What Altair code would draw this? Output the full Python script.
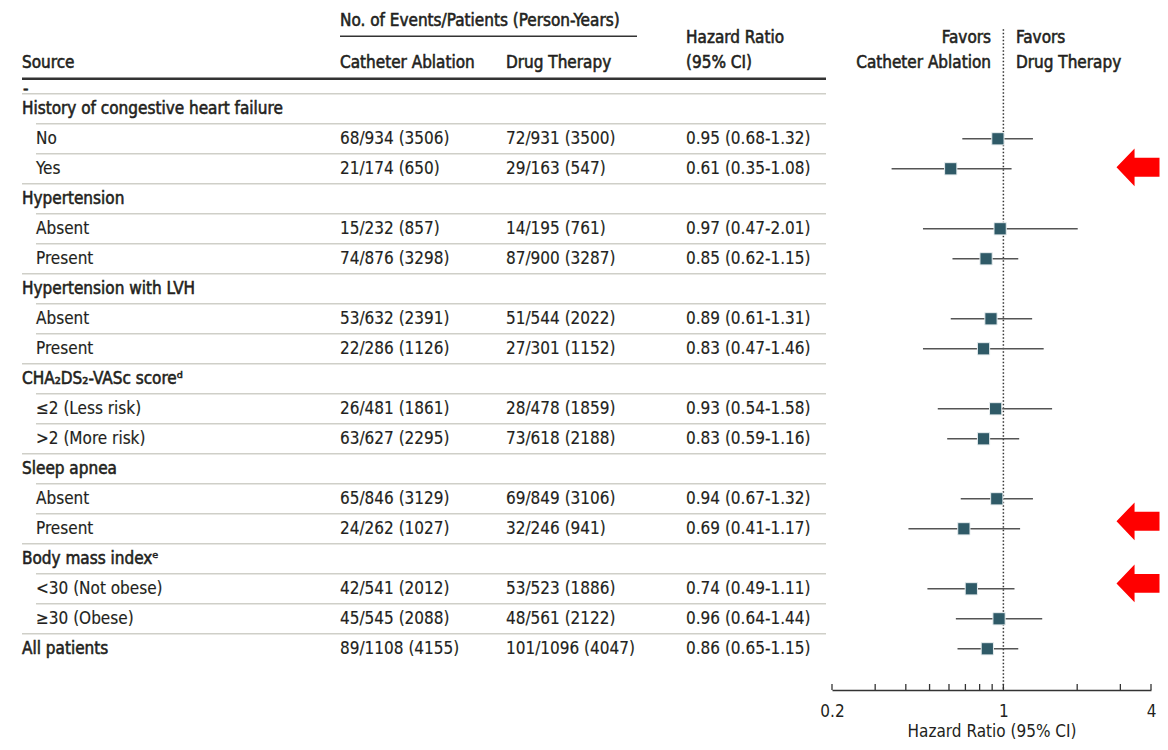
import altair as alt
import pandas as pd

# ---------------- data ----------------
labels = ["History of congestive heart failure", "No", "Yes", "Hypertension", "Absent", "Present",
          "Hypertension with LVH", "Absent", "Present", "CHA₂DS₂-VASc scoreᵈ", "≤2 (Less risk)",
          ">2 (More risk)", "Sleep apnea", "Absent", "Present", "Body mass indexᵉ",
          "<30 (Not obese)", "≥30 (Obese)", "All patients"]
is_header = [1, 0, 0, 1, 0, 0, 1, 0, 0, 1, 0, 0, 1, 0, 0, 1, 0, 0, 1]
cath = ["", "68/934 (3506)", "21/174 (650)", "", "15/232 (857)", "74/876 (3298)", "",
        "53/632 (2391)", "22/286 (1126)", "", "26/481 (1861)", "63/627 (2295)", "",
        "65/846 (3129)", "24/262 (1027)", "", "42/541 (2012)", "45/545 (2088)", "89/1108 (4155)"]
drug = ["", "72/931 (3500)", "29/163 (547)", "", "14/195 (761)", "87/900 (3287)", "",
        "51/544 (2022)", "27/301 (1152)", "", "28/478 (1859)", "73/618 (2188)", "",
        "69/849 (3106)", "32/246 (941)", "", "53/523 (1886)", "48/561 (2122)", "101/1096 (4047)"]
hr = [None, 0.95, 0.61, None, 0.97, 0.85, None, 0.89, 0.83, None, 0.93, 0.83, None, 0.94, 0.69,
      None, 0.74, 0.96, 0.86]
lo = [None, 0.68, 0.35, None, 0.47, 0.62, None, 0.61, 0.47, None, 0.54, 0.59, None, 0.67, 0.41,
      None, 0.49, 0.64, 0.65]
hi = [None, 1.32, 1.08, None, 2.01, 1.15, None, 1.31, 1.46, None, 1.58, 1.16, None, 1.32, 1.17,
      None, 1.11, 1.44, 1.15]
tick_values = [0.2, 0.3, 0.4, 0.5, 0.6, 0.7, 0.8, 0.9, 1, 2, 3, 4]
arrow_rows = [1.95, 13.75, 15.82]

FONT = "DejaVu Sans Condensed, Liberation Sans Narrow, Roboto, sans-serif"
FS = 17
TXT = "#231f20"

rows = pd.DataFrame({
    "r": list(range(len(labels))),
    "label": labels,
    "hdr": is_header,
    "cath": cath,
    "drug": drug,
    "hr": hr, "lo": lo, "hi": hi,
})
rows["hrtxt"] = [f"{h:.2f} ({l:.2f}-{u:.2f})" if h is not None and h == h else ""
                 for h, l, u in zip(hr, lo, hi)]

ydom = [-3.36, 19.3733]
Y = lambda f: alt.Y(f, type="quantitative", scale=alt.Scale(domain=ydom, reverse=True, nice=False, zero=False), axis=None)
XS = alt.Scale(type="log", domain=[0.2, 4], range=[824, 1143], nice=False)
XP = lambda f: alt.X(f, type="quantitative", scale=None, axis=None)

base = alt.Chart(rows)

def txt(align="left", bold=False):
    return dict(align=align, baseline="middle", font=FONT, fontSize=FS, color=TXT,
                stroke=TXT, strokeWidth=0.55 if bold else 0.15)

# row labels
hdr_text = base.transform_filter("datum.hdr == 1").mark_text(**txt(bold=True)).encode(
    x=alt.value(14), y=Y("r"), text="label:N")
sub_text = base.transform_filter("datum.hdr == 0").mark_text(**txt()).encode(
    x=alt.value(28), y=Y("r"), text="label:N")
cath_text = base.mark_text(**txt()).encode(x=alt.value(332), y=Y("r"), text="cath:N")
drug_text = base.mark_text(**txt()).encode(x=alt.value(498), y=Y("r"), text="drug:N")
hr_text = base.mark_text(**txt()).encode(x=alt.value(678), y=Y("r"), text="hrtxt:N")

# separators
sep_r, sep_x = [], []
for i in range(len(labels) - 1):
    sep_r.append(i + 0.5)
    sep_x.append(28 if is_header[i + 1] == 0 else 14)
sep_r.append(-0.5)
sep_x.append(14)
seps = pd.DataFrame({"r": sep_r, "x0": sep_x})
sep_rules = alt.Chart(seps).mark_rule(color="#cfcfc8", strokeWidth=1.5).encode(
    x=XP("x0"), x2=alt.value(818), y=Y("r"))

# header texts
heads = pd.DataFrame({
    "r": [-2.933, -1.533, -1.533, -1.533, -2.367, -1.533, -0.667],
    "x0": [332, 14, 332, 498, 678, 678, 15],
    "t": ["No. of Events/Patients (Person-Years)", "Source", "Catheter Ablation", "Drug Therapy",
          "Hazard Ratio", "(95% CI)", "-"],
})
head_text = alt.Chart(heads).mark_text(**txt(bold=True)).encode(
    x=XP("x0"), y=Y("r"), text="t:N")

fav = pd.DataFrame({
    "r": [-2.367, -1.533, -2.367, -1.533],
    "x0": [983, 983, 1008, 1008],
    "t": ["Favors", "Catheter Ablation", "Favors", "Drug Therapy"],
    "al": ["right", "right", "left", "left"],
})
fav_r = alt.Chart(fav).transform_filter("datum.al == 'right'").mark_text(**txt("right", True)).encode(
    x=XP("x0"), y=Y("r"), text="t:N")
fav_l = alt.Chart(fav).transform_filter("datum.al == 'left'").mark_text(**txt("left", True)).encode(
    x=XP("x0"), y=Y("r"), text="t:N")

# header rules
hrules = pd.DataFrame({"r": [-2.42, -1.0], "x0": [332, 14], "x1": [629, 818], "w": [1.5, 2.5]})
head_rule1 = alt.Chart(hrules).transform_filter("datum.w < 2").mark_rule(color="#333", strokeWidth=1.5).encode(
    x=XP("x0"), x2="x1:Q", y=Y("r"))
head_rule2 = alt.Chart(hrules).transform_filter("datum.w > 2").mark_rule(color="#333", strokeWidth=2.5).encode(
    x=XP("x0"), x2="x1:Q", y=Y("r"))

# reference line at HR = 1
ref = pd.DataFrame({"x": [1], "y0": [-2.65], "y1": [ydom[1]]})
ref_rule = alt.Chart(ref).mark_rule(color="#333", strokeWidth=1.5, strokeDash=[1.5, 2]).encode(
    x=alt.X("x:Q", scale=XS), y=Y("y0"), y2="y1:Q")

# CI and points
forest = base.transform_filter("datum.hr != null")
ci = forest.mark_rule(color="#555", strokeWidth=1.5).encode(
    x=alt.X("lo:Q", scale=XS,
            axis=alt.Axis(values=tick_values, labelExpr="indexof([0.2,1,4], datum.value) >= 0 ? datum.label : ''",
                          format="~g", title="Hazard Ratio (95% CI)", ticks=False, grid=False,
                          domainColor="#333", domainWidth=1.5, labelFont=FONT, labelFontSize=FS,
                          labelColor=TXT, titleFont=FONT, titleFontSize=FS, titleColor=TXT,
                          titleFontWeight="normal", labelPadding=13.5, titlePadding=4, labelFlush=False)),
    x2="hi:Q", y=Y("r"))
pts = forest.mark_square(size=150, color="#2f5a67", opacity=1, stroke="#e8eef0", strokeWidth=1).encode(
    x=alt.X("hr:Q", scale=XS), y=Y("r"))

# upward axis ticks
ticks = pd.DataFrame({"v": tick_values})
tick_rules = alt.Chart(ticks).mark_rule(color="#333", strokeWidth=1.3).encode(
    x=alt.X("v:Q", scale=XS), y=alt.value(676), y2=alt.value(682))

# red arrows
arrows = pd.DataFrame({"r": arrow_rows})
ARROW = "M -1 0 L -0.16 -0.88 L -0.16 -0.44 L 1 -0.44 L 1 0.44 L -0.16 0.44 L -0.16 0.88 Z"
arrow_pts = alt.Chart(arrows).mark_point(shape=ARROW, size=1849, filled=True, color="#ff0000", opacity=1,
                                         strokeWidth=0).encode(
    x=alt.value(1130), y=Y("r"))

chart = alt.layer(
    sep_rules, head_rule1, head_rule2, ref_rule, ci, pts, tick_rules,
    hdr_text, sub_text, cath_text, drug_text, hr_text, head_text, fav_r, fav_l, arrow_pts
).properties(
    width=1152, height=682, autosize="none", background="white",
    padding={"left": 0, "top": 0, "right": 0, "bottom": 52},
).configure_view(strokeWidth=0, stroke="transparent")

chart.save("out.html", embed_options={"renderer": "svg", "actions": False})
